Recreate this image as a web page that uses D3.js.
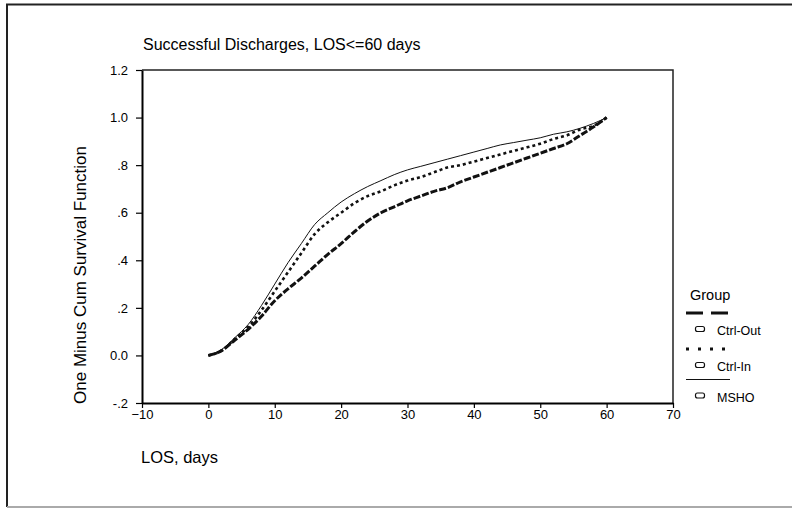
<!DOCTYPE html>
<html>
<head>
<meta charset="utf-8">
<script src="https://cdn.jsdelivr.net/npm/d3@7"></script>
<style>
  body { margin: 0; background: #fff; }
  text { font-family: Arial, "Liberation Sans", sans-serif; fill: #000; }
</style>
</head>
<body>
<svg id="chart" width="792" height="508"></svg>
<script>
const los = [0, 2, 4, 6, 8, 10, 12, 14, 16, 18, 20, 22, 24, 26, 28, 30,
             32, 34, 36, 38, 40, 42, 44, 46, 48, 50, 52, 54, 56, 58, 60];
const ctrlOut = [0, 0.02, 0.065, 0.11, 0.165, 0.23, 0.28, 0.325, 0.375, 0.425, 0.47, 0.52, 0.565, 0.60, 0.625, 0.65,
                 0.67, 0.69, 0.705, 0.73, 0.75, 0.77, 0.79, 0.81, 0.83, 0.85, 0.87, 0.89, 0.925, 0.96, 1.0];
const ctrlIn = [0, 0.02, 0.07, 0.12, 0.19, 0.27, 0.35, 0.43, 0.51, 0.56, 0.60, 0.64, 0.67, 0.69, 0.715, 0.735,
                0.75, 0.77, 0.79, 0.80, 0.815, 0.83, 0.845, 0.86, 0.875, 0.89, 0.91, 0.925, 0.95, 0.965, 1.0];
const msho = [0, 0.025, 0.075, 0.13, 0.21, 0.30, 0.39, 0.47, 0.55, 0.60, 0.645, 0.68, 0.71, 0.735, 0.76, 0.78,
              0.795, 0.81, 0.825, 0.84, 0.855, 0.87, 0.885, 0.895, 0.905, 0.915, 0.93, 0.94, 0.955, 0.975, 1.0];

const groups = ['Ctrl-Out', 'Ctrl-In', 'MSHO'];
const xTicks = [-10, 0, 10, 20, 30, 40, 50, 60, 70];
const yTicks = [-0.2, 0, 0.2, 0.4, 0.6, 0.8, 1.0, 1.2];
const yTickLabels = ['-.2', '0.0', '.2', '.4', '.6', '.8', '1.0', '1.2'];

const svg = d3.select('#chart');

// outer border
svg.append('path').attr('d', 'M800,4.5H7V507').attr('fill', 'none')
  .attr('stroke', '#222').attr('stroke-width', 2);
svg.append('line').attr('x1', 7).attr('x2', 800).attr('y1', 507).attr('y2', 507)
  .attr('stroke', '#aaa').attr('stroke-width', 2);

const margin = {left: 142, top: 70, right: 673, bottom: 403};

const x = d3.scaleLinear().domain([-10, 70]).range([margin.left, margin.right]);
const y = d3.scaleLinear().domain([-0.2, 1.2]).range([margin.bottom, margin.top]);

// frame top / right
svg.append('path')
  .attr('d', `M${margin.left},${margin.top}H${margin.right}V${margin.bottom}`)
  .attr('fill', 'none').attr('stroke', '#222').attr('stroke-width', 1.5);

// axes
const xAxis = svg.append('g')
  .attr('transform', `translate(0,${margin.bottom})`)
  .call(d3.axisBottom(x).tickValues(xTicks).tickSize(5).tickSizeOuter(0));
const yAxis = svg.append('g')
  .attr('transform', `translate(${margin.left},0)`)
  .call(d3.axisLeft(y).tickValues(yTicks).tickSize(6).tickSizeOuter(0)
    .tickFormat((d, i) => yTickLabels[i]));

[xAxis, yAxis].forEach(a => {
  a.select('.domain').attr('stroke', '#000').attr('stroke-width', 2);
  a.selectAll('.tick line').attr('stroke', '#000').attr('stroke-width', 1.2);
  a.selectAll('.tick text').style('font-size', '13px').attr('fill', '#000')
    .style('font-family', 'Arial, "Liberation Sans", sans-serif');
});
xAxis.selectAll('.tick text').attr('dy', '0.8em').attr('y', 6);
yAxis.selectAll('.tick text').attr('x', -14);

// curves
const line = d3.line()
  .x((d, i) => x(los[i]))
  .y(d => y(d))
  .curve(d3.curveMonotoneX);

const styles = {
  'Ctrl-Out': {data: ctrlOut, width: 3, dash: '7,2'},
  'Ctrl-In': {data: ctrlIn, width: 2.6, dash: '3,3'},
  'MSHO': {data: msho, width: 1, dash: null}
};

groups.forEach(g => {
  const s = styles[g];
  svg.append('path')
    .datum(s.data)
    .attr('d', line)
    .attr('fill', 'none')
    .attr('stroke', '#111')
    .attr('stroke-width', s.width)
    .attr('stroke-dasharray', s.dash);
});

// title and axis labels
svg.append('text').attr('x', 143).attr('y', 50).style('font-size', '16px')
  .text('Successful Discharges, LOS<=60 days');
svg.append('text').attr('x', 141).attr('y', 463).style('font-size', '16.5px')
  .text('LOS, days');
svg.append('text')
  .attr('transform', 'translate(86,275) rotate(-90)')
  .attr('text-anchor', 'middle')
  .style('font-size', '17px')
  .text('One Minus Cum Survival Function');

// legend
const leg = svg.append('g');
leg.append('text').attr('x', 690).attr('y', 300).style('font-size', '14.5px').text('Group');
const legLines = [
  {y: 313, width: 3, dash: '17,8'},
  {y: 349, width: 3, dash: '3,9'},
  {y: 379.5, width: 1, dash: null}
];
groups.forEach((g, i) => {
  const l = legLines[i];
  leg.append('line')
    .attr('x1', 686).attr('x2', 730).attr('y1', l.y).attr('y2', l.y)
    .attr('stroke', '#111').attr('stroke-width', l.width)
    .attr('stroke-dasharray', l.dash);
  leg.append('rect')
    .attr('x', 695.5).attr('y', l.y + 13.5).attr('width', 9).attr('height', 5)
    .attr('rx', 2).attr('fill', 'none').attr('stroke', '#111').attr('stroke-width', 1.2);
  leg.append('text').attr('x', 717).attr('y', l.y + 22).style('font-size', '12.5px').text(g);
});
</script>
</body>
</html>
